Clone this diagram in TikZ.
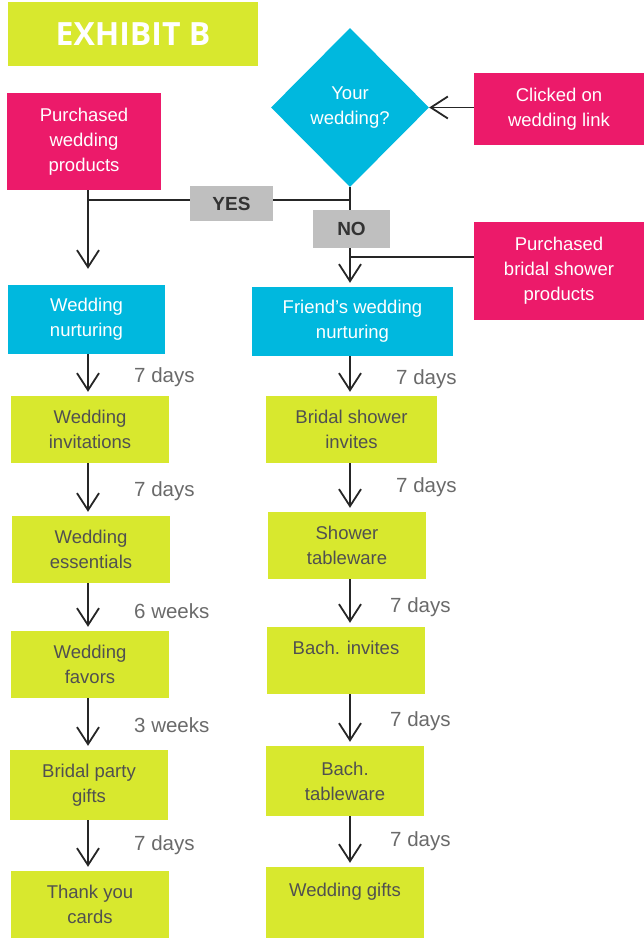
\documentclass[tikz,border=0pt]{standalone}
\usepackage{fontspec}
\setmainfont{Liberation Sans}
\newfontfamily\titlefont{Open Sans}
\usetikzlibrary{shapes.geometric,arrows.meta}
\definecolor{wlime}{HTML}{D8E82E}
\definecolor{wpink}{HTML}{EC1A6A}
\definecolor{wblue}{HTML}{00B8DE}
\definecolor{wgray}{HTML}{BFBFBF}
\definecolor{wtext}{HTML}{505050}
\definecolor{wlabel}{HTML}{6A6A6A}
\begin{document}
\begin{tikzpicture}[x=1pt,y=-1pt]
        \tikzstyle{every node}=[inner sep=0pt, align=center, font=\fontsize{18.5}{25}\selectfont]
        \tikzstyle{pinkbox}=[fill=wpink, text=white]
        \tikzstyle{bluebox}=[fill=wblue, text=white]
        \tikzstyle{limebox}=[fill=wlime, text=wtext, minimum width=158pt, minimum height=67pt]
        \tikzstyle{choice}=[fill=wgray, text=black!80, font=\fontsize{19}{22}\selectfont\bfseries]
        \tikzstyle{delay}=[anchor=west, text=wlabel, font=\fontsize{20.5}{24}\selectfont]
        \tikzstyle{arr}=[-{Straight Barb[length=17pt,width=22pt,line width=1.8pt]}, line width=1.8pt, black!85]
        \tikzstyle{wire}=[line width=1.8pt, black!85]
        \useasboundingbox (0,0) rectangle (644,938);
        \coordinate (colL) at (88,0);
        \coordinate (colR) at (350,0);
        \coordinate (fork) at (350,200);
        \node[fill=wlime, text=white, minimum width=250pt, minimum height=64pt, font=\titlefont\fontsize{32}{36}\selectfont\bfseries] (exhibit) at (133,34) {EXHIBIT B};
        \node[diamond, fill=wblue, text=white, minimum width=158pt, minimum height=159pt] (q) at (350,107.5) {Your\\wedding?};
        \node[pinkbox, minimum width=170pt, minimum height=72pt] (clicked) at (559,109) {Clicked on\\wedding link};
        \node[pinkbox, minimum width=154pt, minimum height=97pt] (boughtW) at (84,141.5) {Purchased\\wedding\\products};
        \node[pinkbox, minimum width=170pt, minimum height=98pt] (boughtS) at (559,271) {Purchased\\bridal shower\\products};
        \node[bluebox, minimum width=157pt, minimum height=69pt] (nurtW) at (86.5,319.5) {Wedding\\nurturing};
        \node[bluebox, minimum width=201pt, minimum height=69pt] (nurtF) at (352.5,321.5) {Friend’s wedding\\nurturing};
        \node[limebox] (invW) at (90,429.5) {Wedding\\invitations};
        \node[limebox] (essW) at (91,549.5) {Wedding\\essentials};
        \node[limebox] (favW) at (90,664.5) {Wedding\\favors};
        \node[limebox, minimum height=70pt] (partyW) at (89,785) {Bridal party\\gifts};
        \node[limebox] (thankW) at (90,904.5) {Thank you\\cards};
        \node[limebox, minimum width=171pt] (invB) at (351.5,429.5) {Bridal shower\\invites};
        \node[limebox] (tableS) at (347,545.5) {Shower\\tableware};
        \node[limebox] (invBach) at (346,660.5) {Bach. invites\\\mbox{}};
        \node[limebox, minimum height=70pt] (tableBach) at (345,781) {Bach.\\tableware};
        \node[limebox, minimum height=71pt] (gifts) at (345,902.5) {Wedding gifts\\\mbox{}};
        \draw[arr] (clicked.west |- q.east) -- (q.east);
        \draw[arr] (q.south) -- ([yshift=4pt]nurtF.north -| colR);
        \draw[wire] (fork) -- (fork -| colL);
        \draw[arr] (boughtW.south -| colL) -- ([yshift=16pt]nurtW.north -| colL);
        \draw[wire] ([yshift=14pt]boughtS.west) -- ([yshift=14pt]boughtS.west -| colR);
        \node[choice, minimum width=83pt, minimum height=35pt] (yes) at (231.5,203.5) {YES};
        \node[choice, minimum width=77pt, minimum height=38pt] (no) at (351.5,229) {NO};
        \draw[arr] (nurtW.south -| colL) -- ([yshift=4pt]invW.north -| colL);
        \draw[arr] (invW.south -| colL) -- ([yshift=4pt]essW.north -| colL);
        \draw[arr] (essW.south -| colL) -- ([yshift=4pt]favW.north -| colL);
        \draw[arr] (favW.south -| colL) -- ([yshift=4pt]partyW.north -| colL);
        \draw[arr] (partyW.south -| colL) -- ([yshift=4pt]thankW.north -| colL);
        \draw[arr] (nurtF.south -| colR) -- ([yshift=4pt]invB.north -| colR);
        \draw[arr] (invB.south -| colR) -- ([yshift=4pt]tableS.north -| colR);
        \draw[arr] (tableS.south -| colR) -- ([yshift=4pt]invBach.north -| colR);
        \draw[arr] (invBach.south -| colR) -- ([yshift=4pt]tableBach.north -| colR);
        \draw[arr] (tableBach.south -| colR) -- ([yshift=4pt]gifts.north -| colR);
        \node[delay] (dW1) at (134,377) {7 days};
        \node[delay] (dW2) at (134,491) {7 days};
        \node[delay] (dW3) at (134,611) {6 weeks};
        \node[delay] (dW4) at (134,725) {3 weeks};
        \node[delay] (dW5) at (134,845) {7 days};
        \node[delay] (dF1) at (396,379) {7 days};
        \node[delay] (dF2) at (396,487) {7 days};
        \node[delay] (dF3) at (390,607) {7 days};
        \node[delay] (dF4) at (390,721) {7 days};
        \node[delay] (dF5) at (390,841) {7 days};
\end{tikzpicture}
\end{document}
